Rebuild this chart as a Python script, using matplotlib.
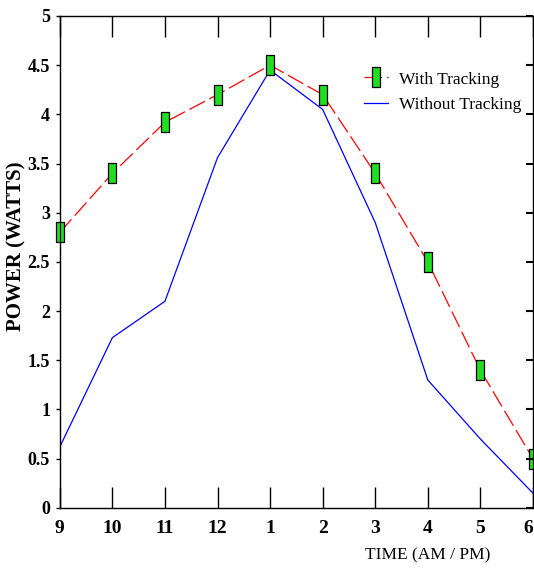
import matplotlib.pyplot as plt
import numpy as np

plt.rcParams['font.family'] = ['Liberation Serif', 'DejaVu Serif']

hours = ['9', '10', '11', '12', '1', '2', '3', '4', '5', '6']
with_tracking = [2.8, 3.4, 3.92, 4.2, 4.5, 4.2, 3.4, 2.5, 1.4, 0.5]
without_tracking = [0.62, 1.73, 2.1, 3.56, 4.45, 4.05, 2.9, 1.3, 0.7, 0.15]

x = np.arange(len(hours))

fig = plt.figure(figsize=(5.34, 5.70), dpi=100)
ax = fig.add_axes([0.112, 0.109, 0.886, 0.863])

rect = [(-1, -2.4), (1, -2.4), (1, 2.4), (-1, 2.4), (-1, -2.4)]
ax.plot(x, with_tracking, color='red', lw=0.9, dashes=(14, 4),
        marker=rect, markersize=14, markerfacecolor='#22dd22',
        markeredgecolor='black', markeredgewidth=0.9,
        label='With Tracking', clip_on=False, zorder=3)
ax.plot(x, without_tracking, color='blue', lw=0.9,
        label='Without Tracking', zorder=2)

ax.set_xlim(0, 9)
ax.set_ylim(0, 5)
ax.set_xticks(x)
ax.set_xticklabels(hours)
ax.set_yticks(np.arange(0, 5.01, 0.5))
ax.set_yticklabels(['0', '0.5', '1', '1.5', '2', '2.5', '3', '3.5', '4', '4.5', '5'])

ax.tick_params(axis='x', direction='in', length=15, width=1, top=True,
               labelsize=14, pad=9)
ax.tick_params(axis='y', direction='out', length=3, width=1, labelsize=13, pad=4)
for t in ax.get_xticklabels() + ax.get_yticklabels():
    t.set_fontweight('bold')
# last label sits on the figure edge, keep it inside
ax.get_xticklabels()[-1].set_horizontalalignment('right')

# inward ticks on the right edge
ax2 = ax.twinx()
ax2.set_ylim(0, 5)
ax2.set_yticks(np.arange(0, 5.01, 0.5))
ax2.tick_params(axis='y', direction='in', length=5, width=1.5, labelright=False)

for s in ax.spines.values():
    s.set_linewidth(1)
    s.set_color('#333333')

fig.text(0.03, 0.568, 'POWER (WATTS)', fontsize=15, fontweight='bold',
         rotation=90, ha='center', va='center')
fig.text(0.918, 0.026, 'TIME (AM / PM)', fontsize=12.5, ha='right', va='center')

leg = ax.legend(loc='upper left', bbox_to_anchor=(0.625, 0.905), frameon=False,
                fontsize=12.5, handlelength=1.4, handletextpad=0.6,
                labelspacing=0.55, borderpad=0)

fig.savefig('out.png', dpi=100)
